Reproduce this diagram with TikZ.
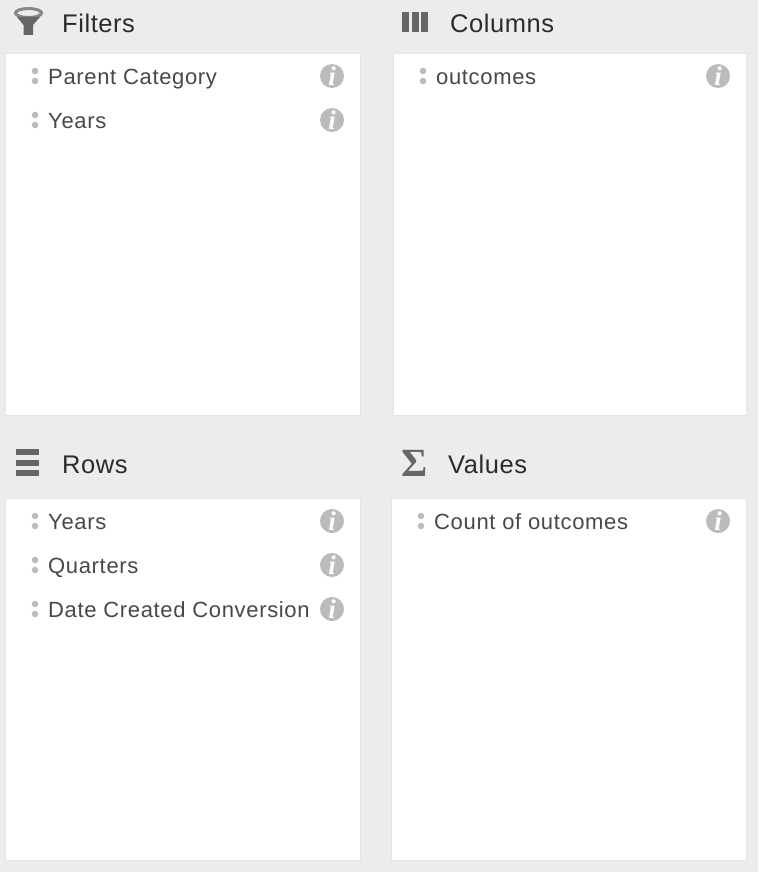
\documentclass[tikz,border=0pt]{standalone}
\usepackage{fontspec}
\setmainfont{Liberation Sans}
\newfontfamily\iconfont{Liberation Serif}
\newfontfamily\headfont[LetterSpace=2.2]{Liberation Sans}
\newfontfamily\itemfont[LetterSpace=3]{Liberation Sans}
\usetikzlibrary{positioning}
\definecolor{panelbg}{HTML}{ECECEC}
\definecolor{panelline}{HTML}{E4E4E4}
\definecolor{headtext}{HTML}{2B2B2B}
\definecolor{itemtext}{HTML}{484848}
\definecolor{icondark}{HTML}{666666}
\definecolor{icongray}{HTML}{BBBBBB}
\tikzset{
  panel/.style={
    draw=panelline,
    line width=1pt,
    fill=white,
    anchor=north west,
    minimum height=361.5pt
  },
  heading/.style={
    anchor=base west,
    inner sep=0pt,
    text=headtext,
    font=\headfont\fontsize{25.5}{28}\selectfont
  },
  item/.style={
    anchor=base west,
    inner sep=0pt,
    text=itemtext,
    font=\itemfont\fontsize{22}{26}\selectfont
  },
  info/.style={
    circle,
    fill=icongray,
    inner sep=0pt,
    minimum size=24pt,
    text=white,
    font=\iconfont\bfseries\itshape\fontsize{27}{27}\selectfont
  },
  griptip/.style={
    circle,
    fill=icongray,
    inner sep=0pt,
    minimum size=6.5pt
  },
  bar/.style={
    fill=icondark
  }
}
\begin{document}
\begin{tikzpicture}[x=1pt,y=-1pt]
  \useasboundingbox[fill=panelbg] (0,0) rectangle (758,872);

  % panels
  \node[panel, minimum width=355pt] (filters) at (5,53.5) {};
  \node[panel, minimum width=353pt] (columns) at (393,53.5) {};
  \node[panel, minimum width=355pt] (rows) at (5,498) {};
  \node[panel, minimum width=355pt] (values) at (391,498) {};

  % headings
  \node[heading] (filtershead) at (62,32.5) {Filters};
  \node[heading] (columnshead) at (450,32.5) {Columns};
  \node[heading] (rowshead) at (62,473) {Rows};
  \node[heading] (valueshead) at (448,473) {Values};

  % name/x/y of the rows in each panel
  \foreach \name/\gx/\tx/\ix/\y/\txt in {
    parent/35/48/332/76/Parent Category,
    years/35/48/332/120/Years,
    outcomes/423/436/718/76/outcomes,
    rowyears/35/48/332/521/Years,
    quarters/35/48/332/565/Quarters,
    created/35/48/332/609/Date Created Conversion,
    count/421/434/718/521/Count of outcomes}
  {
    \node[griptip] (\name top) at (\gx,\y-5) {};
    \node[griptip] (\name low) at (\gx,\y+5) {};
    \node[item] (\name) at (\tx,\y+8.6) {\txt};
    \node[info] (\name info) at (\ix,\y) {i};
  }

  % filter icon
  \draw[icondark!75!panelbg, line width=3pt] (28.5,13) ellipse (13pt and 4.5pt);
  \fill[icondark] (17,17) -- (40,17) -- (33,25) -- (33,35) -- (23.5,35) -- (23.5,25) -- cycle;

  % columns icon
  \foreach \x in {402,411.5,421}
    \fill[bar] (\x,12) rectangle ++(7,20);

  % rows icon
  \foreach \y in {449,459.5,469.5}
    \fill[bar] (16,\y) rectangle ++(22.5,6);

  % values icon
  \node[anchor=center, inner sep=0pt, text=icondark, font=\iconfont\bfseries\fontsize{40}{40}\selectfont] (sigma) at (414.5,463) {Σ};
\end{tikzpicture}
\end{document}
